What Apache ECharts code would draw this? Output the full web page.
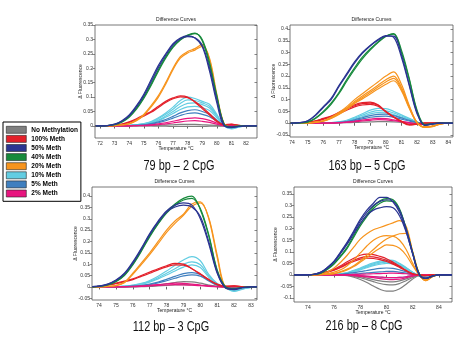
<!DOCTYPE html>
<html>
<head>
<meta charset="utf-8">
<script src="https://cdn.jsdelivr.net/npm/echarts@6/dist/echarts.min.js"></script>
<style>
  html, body { margin: 0; padding: 0; background: #fff; }
  #chart { width: 474px; height: 338px; }
</style>
</head>
<body>
<div id="chart"></div>
<script>
// Methylation standards shown in every panel
const groups = ['No Methylation', '100% Meth', '50% Meth', '40% Meth', '20% Meth', '10% Meth', '5% Meth', '2% Meth'];

// ---------- 79 bp amplicon (2 CpG) ----------
const temp79 = [71.7, 72, 72.5, 73, 73.5, 74, 74.5, 75, 75.5, 76, 76.5, 77, 77.5, 78, 78.5, 79, 79.5, 80, 80.5, 81, 81.5, 82, 82.75];
const xTicks79 = [72, 73, 74, 75, 76, 77, 78, 79, 80, 81, 82];
const yTicks79 = [0, 0.05, 0.1, 0.15, 0.2, 0.25, 0.3, 0.35];
const bp79_m50 = [
  [0, 0, 0.001, 0.006, 0.018, 0.038, 0.07, 0.11, 0.16, 0.21, 0.25, 0.285, 0.305, 0.312, 0.305, 0.275, 0.19, 0.08, 0.0, -0.004, -0.002, 0, 0],
  [0, 0, 0.001, 0.005, 0.016, 0.035, 0.066, 0.105, 0.153, 0.203, 0.245, 0.28, 0.302, 0.31, 0.306, 0.28, 0.2, 0.09, 0.003, -0.006, -0.002, 0, 0]
];
const bp79_m40 = [
  [0, 0, 0.001, 0.005, 0.015, 0.033, 0.062, 0.1, 0.145, 0.195, 0.24, 0.275, 0.3, 0.315, 0.322, 0.295, 0.21, 0.1, 0.005, -0.003, -0.001, 0, 0],
  [0, 0, 0.001, 0.004, 0.013, 0.03, 0.058, 0.095, 0.14, 0.19, 0.235, 0.272, 0.298, 0.313, 0.32, 0.3, 0.22, 0.105, 0.006, -0.003, -0.001, 0, 0]
];
const bp79_m20 = [
  [0, 0, 0, 0.001, 0.004, 0.008, 0.02, 0.04, 0.07, 0.105, 0.15, 0.2, 0.24, 0.258, 0.268, 0.283, 0.23, 0.1, 0.005, -0.003, -0.001, 0, 0],
  [0, 0, 0, 0.001, 0.003, 0.007, 0.018, 0.037, 0.066, 0.1, 0.145, 0.195, 0.235, 0.253, 0.263, 0.276, 0.235, 0.11, 0.008, -0.003, -0.001, 0, 0]
];
const bp79_m100 = [
  [0, 0, 0, 0.002, 0.006, 0.014, 0.025, 0.038, 0.05, 0.068, 0.085, 0.097, 0.104, 0.1, 0.082, 0.06, 0.038, 0.015, 0.003, 0.005, 0.002, 0, 0],
  [0, 0, 0, 0.002, 0.005, 0.012, 0.022, 0.034, 0.047, 0.064, 0.081, 0.094, 0.101, 0.098, 0.085, 0.065, 0.042, 0.018, 0.004, 0.006, 0.002, 0, 0]
];
const bp79_m10 = [
  [0, 0, 0, 0, 0, 0.002, 0.004, 0.008, 0.015, 0.028, 0.045, 0.065, 0.088, 0.1, 0.095, 0.085, 0.075, 0.04, 0, -0.01, -0.004, 0, 0],
  [0, 0, 0, 0, 0, 0.002, 0.004, 0.007, 0.013, 0.025, 0.04, 0.058, 0.078, 0.09, 0.088, 0.08, 0.068, 0.036, 0, -0.009, -0.004, 0, 0],
  [0, 0, 0, 0, 0, 0.001, 0.003, 0.006, 0.011, 0.02, 0.034, 0.05, 0.067, 0.078, 0.08, 0.074, 0.062, 0.033, 0, -0.008, -0.003, 0, 0],
  [0, 0, 0, 0, 0, 0.001, 0.003, 0.005, 0.01, 0.018, 0.03, 0.043, 0.057, 0.066, 0.068, 0.063, 0.053, 0.028, 0, -0.007, -0.003, 0, 0]
];
const bp79_m5 = [
  [0, 0, 0, 0, 0, 0.001, 0.002, 0.004, 0.008, 0.014, 0.022, 0.033, 0.045, 0.053, 0.056, 0.05, 0.04, 0.02, 0, -0.005, -0.002, 0, 0],
  [0, 0, 0, 0, 0, 0.001, 0.002, 0.003, 0.006, 0.011, 0.018, 0.027, 0.036, 0.043, 0.045, 0.04, 0.032, 0.016, 0, -0.004, -0.002, 0, 0]
];
const bp79_m2 = [
  [0, 0, 0, 0, 0, 0, 0.001, 0.002, 0.004, 0.007, 0.011, 0.016, 0.022, 0.026, 0.028, 0.025, 0.019, 0.01, 0.001, 0.002, 0.001, 0, 0],
  [0, 0, 0, 0, 0, 0, 0.001, 0.001, 0.002, 0.004, 0.007, 0.01, 0.014, 0.017, 0.018, 0.016, 0.012, 0.006, 0.001, 0.001, 0, 0, 0]
];
const bp79_none = [
  [0, 0, 0, 0, 0, 0, 0, 0.001, 0.001, 0.002, 0.003, 0.004, 0.005, 0.005, 0.005, 0.004, 0.003, 0.002, 0, 0, 0, 0, 0],
  [0, 0, 0, 0, 0, 0, 0, 0, 0, -0.001, -0.001, -0.002, -0.002, -0.002, -0.002, -0.002, -0.001, -0.001, 0, 0, 0, 0, 0]
];

// ---------- 163 bp amplicon (5 CpG) ----------
const temp163 = [73.9, 74, 74.5, 75, 75.5, 76, 76.5, 77, 77.5, 78, 78.5, 79, 79.5, 80, 80.5, 81, 81.5, 82, 82.5, 83, 83.5, 84, 84.3];
const xTicks163 = [74, 75, 76, 77, 78, 79, 80, 81, 82, 83, 84];
const yTicks163 = [-0.05, 0, 0.05, 0.1, 0.15, 0.2, 0.25, 0.3, 0.35, 0.4];
const bp163_m50 = [
  [0, 0, 0.002, 0.01, 0.035, 0.07, 0.105, 0.16, 0.21, 0.26, 0.3, 0.33, 0.355, 0.372, 0.365, 0.28, 0.16, 0.04, -0.01, -0.003, 0, 0, 0],
  [0, 0, 0.002, 0.009, 0.032, 0.066, 0.1, 0.155, 0.205, 0.255, 0.296, 0.328, 0.352, 0.37, 0.37, 0.29, 0.165, 0.045, -0.01, -0.003, 0, 0, 0]
];
const bp163_m40 = [
  [0, 0, 0.001, 0.005, 0.022, 0.05, 0.085, 0.13, 0.185, 0.235, 0.28, 0.315, 0.345, 0.37, 0.378, 0.3, 0.185, 0.05, -0.008, -0.002, 0, 0, 0],
  [0, 0, 0.001, 0.004, 0.02, 0.046, 0.08, 0.125, 0.178, 0.228, 0.273, 0.31, 0.342, 0.368, 0.38, 0.31, 0.19, 0.055, -0.006, -0.002, 0, 0, 0]
];
const bp163_m20 = [
  [0, 0, 0, 0.001, 0.004, 0.01, 0.025, 0.045, 0.07, 0.1, 0.125, 0.15, 0.175, 0.2, 0.218, 0.165, 0.075, 0.002, -0.018, -0.015, -0.003, 0, 0],
  [0, 0, 0, 0.001, 0.004, 0.009, 0.023, 0.041, 0.064, 0.092, 0.115, 0.138, 0.161, 0.184, 0.2, 0.152, 0.07, 0.002, -0.017, -0.014, -0.003, 0, 0],
  [0, 0, 0, 0.001, 0.003, 0.009, 0.021, 0.039, 0.061, 0.087, 0.109, 0.131, 0.153, 0.175, 0.19, 0.145, 0.066, 0.002, -0.016, -0.013, -0.003, 0, 0],
  [0, 0, 0, 0.001, 0.003, 0.008, 0.02, 0.037, 0.058, 0.083, 0.103, 0.124, 0.145, 0.165, 0.18, 0.138, 0.063, 0.002, -0.016, -0.013, -0.003, 0, 0]
];
const bp163_m100 = [
  [0, 0, 0.001, 0.003, 0.01, 0.02, 0.03, 0.046, 0.063, 0.078, 0.087, 0.089, 0.078, 0.048, 0.025, 0.006, -0.008, -0.005, 0, 0, 0, 0, 0],
  [0, 0, 0.001, 0.003, 0.009, 0.018, 0.028, 0.043, 0.06, 0.074, 0.083, 0.085, 0.076, 0.05, 0.027, 0.008, -0.007, -0.004, 0, 0, 0, 0, 0],
  [0, 0, 0.001, 0.002, 0.008, 0.016, 0.026, 0.04, 0.055, 0.069, 0.077, 0.08, 0.072, 0.048, 0.026, 0.008, -0.006, -0.004, 0, 0, 0, 0, 0]
];
const bp163_m10 = [
  [0, 0, 0, 0, 0, 0.001, 0.002, 0.005, 0.012, 0.025, 0.04, 0.055, 0.063, 0.062, 0.05, 0.035, 0.02, 0.006, -0.008, -0.003, 0, 0, 0],
  [0, 0, 0, 0, 0, 0.001, 0.002, 0.004, 0.01, 0.021, 0.034, 0.046, 0.053, 0.052, 0.043, 0.03, 0.017, 0.005, -0.007, -0.003, 0, 0, 0],
  [0, 0, 0, 0, 0, 0, 0.001, 0.003, 0.008, 0.017, 0.028, 0.039, 0.045, 0.044, 0.036, 0.025, 0.014, 0.004, -0.006, -0.002, 0, 0, 0]
];
const bp163_m5 = [
  [0, 0, 0, 0, 0, 0, 0.001, 0.003, 0.007, 0.014, 0.023, 0.032, 0.037, 0.038, 0.032, 0.022, 0.012, 0.003, -0.004, -0.002, 0, 0, 0],
  [0, 0, 0, 0, 0, 0, 0.001, 0.002, 0.005, 0.011, 0.018, 0.025, 0.029, 0.03, 0.025, 0.017, 0.009, 0.002, -0.003, -0.001, 0, 0, 0]
];
const bp163_m2 = [
  [0, 0, 0, 0, 0, 0, 0.001, 0.002, 0.004, 0.008, 0.013, 0.017, 0.02, 0.019, 0.014, 0.008, 0.002, -0.004, -0.005, -0.002, 0, 0, 0],
  [0, 0, 0, 0, 0, 0, 0, 0.001, 0.003, 0.006, 0.009, 0.012, 0.015, 0.014, 0.01, 0.005, 0, -0.003, -0.004, -0.001, 0, 0, 0]
];
const bp163_none = [
  [0, 0, 0, 0, 0, 0, 0, 0.001, 0.002, 0.003, 0.004, 0.005, 0.006, 0.006, 0.005, 0.003, 0.001, 0, 0, 0, 0, 0, 0]
];

// ---------- 112 bp amplicon (3 CpG) ----------
const temp112 = [73.6, 74, 74.5, 75, 75.5, 76, 76.5, 77, 77.5, 78, 78.5, 79, 79.5, 80, 80.5, 81, 81.5, 82, 82.5, 83, 83.36];
const xTicks112 = [74, 75, 76, 77, 78, 79, 80, 81, 82, 83];
const yTicks112 = [-0.05, 0, 0.05, 0.1, 0.15, 0.2, 0.25, 0.3, 0.35, 0.4];
const bp112_m50 = [
  [0.001, 0.003, 0.012, 0.03, 0.06, 0.11, 0.17, 0.235, 0.29, 0.335, 0.36, 0.37, 0.36, 0.3, 0.19, 0.06, -0.005, -0.012, -0.004, 0, 0],
  [0.001, 0.003, 0.011, 0.028, 0.057, 0.105, 0.165, 0.23, 0.285, 0.33, 0.352, 0.36, 0.352, 0.31, 0.2, 0.065, -0.004, -0.01, -0.003, 0, 0]
];
const bp112_m40 = [
  [0, 0.002, 0.009, 0.025, 0.052, 0.1, 0.16, 0.225, 0.28, 0.33, 0.365, 0.39, 0.4, 0.34, 0.225, 0.07, 0, -0.008, -0.003, 0, 0],
  [0, 0.002, 0.008, 0.023, 0.05, 0.097, 0.156, 0.22, 0.277, 0.325, 0.36, 0.383, 0.39, 0.345, 0.23, 0.075, 0, -0.008, -0.003, 0, 0]
];
const bp112_m20 = [
  [0, 0, 0.002, 0.006, 0.02, 0.06, 0.105, 0.15, 0.2, 0.25, 0.29, 0.32, 0.365, 0.375, 0.3, 0.13, -0.005, -0.01, -0.003, 0, 0],
  [0, 0, 0.002, 0.005, 0.018, 0.055, 0.098, 0.142, 0.19, 0.24, 0.28, 0.315, 0.355, 0.37, 0.305, 0.14, -0.003, -0.01, -0.003, 0, 0]
];
const bp112_m100 = [
  [0, 0.002, 0.008, 0.016, 0.025, 0.035, 0.05, 0.065, 0.08, 0.093, 0.103, 0.1, 0.08, 0.055, 0.03, 0.01, 0.002, 0.004, 0.001, 0, 0],
  [0, 0.002, 0.007, 0.014, 0.022, 0.032, 0.046, 0.06, 0.075, 0.088, 0.097, 0.096, 0.08, 0.058, 0.033, 0.012, 0.003, 0.004, 0.001, 0, 0]
];
const bp112_m10 = [
  [0, 0, 0, 0.001, 0.003, 0.008, 0.015, 0.028, 0.047, 0.07, 0.095, 0.118, 0.133, 0.115, 0.055, 0.015, -0.005, -0.02, -0.01, -0.002, 0],
  [0, 0, 0, 0.001, 0.003, 0.007, 0.013, 0.024, 0.04, 0.06, 0.08, 0.1, 0.11, 0.097, 0.048, 0.013, -0.004, -0.018, -0.009, -0.002, 0],
  [0, 0, 0, 0.001, 0.002, 0.006, 0.011, 0.021, 0.035, 0.052, 0.07, 0.087, 0.097, 0.085, 0.042, 0.011, -0.004, -0.016, -0.008, -0.002, 0]
];
const bp112_m5 = [
  [0, 0, 0, 0, 0.001, 0.003, 0.006, 0.012, 0.021, 0.033, 0.046, 0.058, 0.063, 0.055, 0.03, 0.008, -0.002, -0.008, -0.004, 0, 0],
  [0, 0, 0, 0, 0.001, 0.002, 0.005, 0.01, 0.017, 0.027, 0.038, 0.048, 0.053, 0.047, 0.026, 0.007, -0.002, -0.007, -0.003, 0, 0]
];
const bp112_m2 = [
  [0, 0, 0, 0, 0.001, 0.002, 0.004, 0.007, 0.01, 0.013, 0.016, 0.015, 0.012, 0.008, 0.004, 0.001, 0, 0.002, 0.001, 0, 0],
  [0, 0, 0, 0, 0, 0.001, 0.002, 0.004, 0.006, 0.008, 0.01, 0.009, 0.007, 0.005, 0.002, 0.001, 0, 0.001, 0, 0, 0]
];
const bp112_none = [
  [0, 0, 0, 0, 0, 0.001, 0.002, 0.005, 0.009, 0.014, 0.019, 0.023, 0.022, 0.016, 0.008, 0.002, 0, -0.002, -0.001, 0, 0],
  [0, 0, 0, 0, 0, 0, 0.001, 0.002, 0.004, 0.006, 0.008, 0.01, 0.009, 0.007, 0.004, 0.001, 0, -0.001, 0, 0, 0]
];

// ---------- 216 bp amplicon (8 CpG) ----------
const temp216 = [72.95, 73.5, 74, 74.5, 75, 75.5, 76, 76.5, 77, 77.5, 78, 78.5, 79, 79.5, 80, 80.5, 81, 81.5, 82, 82.5, 83, 83.5, 84, 85];
const xTicks216 = [74, 76, 78, 80, 82, 84];
const yTicks216 = [-0.1, -0.05, 0, 0.05, 0.1, 0.15, 0.2, 0.25, 0.3, 0.35];
const bp216_m50 = [
  [0, 0, 0, 0.003, 0.012, 0.033, 0.06, 0.1, 0.142, 0.19, 0.24, 0.28, 0.31, 0.335, 0.335, 0.315, 0.27, 0.19, 0.09, 0, -0.015, -0.005, 0, 0],
  [0, 0, 0, 0.003, 0.011, 0.03, 0.056, 0.093, 0.133, 0.178, 0.222, 0.258, 0.28, 0.29, 0.295, 0.29, 0.255, 0.185, 0.09, 0.002, -0.015, -0.005, 0, 0],
  [0, 0, 0, 0.003, 0.012, 0.032, 0.058, 0.097, 0.138, 0.185, 0.232, 0.27, 0.3, 0.318, 0.325, 0.318, 0.28, 0.2, 0.095, 0.003, -0.015, -0.005, 0, 0]
];
const bp216_m40 = [
  [0, 0, 0, 0.002, 0.009, 0.026, 0.05, 0.083, 0.12, 0.17, 0.22, 0.26, 0.295, 0.32, 0.33, 0.325, 0.285, 0.2, 0.095, 0.005, -0.015, -0.005, 0, 0],
  [0, 0, 0, 0.002, 0.008, 0.024, 0.047, 0.079, 0.115, 0.163, 0.212, 0.252, 0.287, 0.31, 0.32, 0.318, 0.28, 0.198, 0.095, 0.005, -0.015, -0.005, 0, 0]
];
const bp216_m20 = [
  [0, 0, 0, 0.001, 0.004, 0.012, 0.03, 0.055, 0.085, 0.12, 0.155, 0.178, 0.195, 0.205, 0.215, 0.225, 0.235, 0.21, 0.1, 0.005, -0.025, -0.008, 0, 0],
  [0, 0, 0, 0.001, 0.003, 0.006, 0.012, 0.022, 0.04, 0.065, 0.095, 0.125, 0.15, 0.165, 0.17, 0.168, 0.15, 0.11, 0.05, 0, -0.02, -0.006, 0, 0],
  [0, 0, 0, 0, 0.001, 0.003, 0.006, 0.014, 0.025, 0.04, 0.06, 0.085, 0.11, 0.135, 0.155, 0.168, 0.178, 0.18, 0.1, 0.005, -0.025, -0.008, 0, 0],
  [0, 0, 0, 0, 0.001, 0.003, 0.006, 0.012, 0.022, 0.036, 0.055, 0.075, 0.097, 0.115, 0.13, 0.128, 0.115, 0.085, 0.04, 0, -0.018, -0.005, 0, 0]
];
const bp216_m100 = [
  [0, 0, 0, 0.002, 0.008, 0.015, 0.025, 0.04, 0.057, 0.072, 0.085, 0.09, 0.088, 0.08, 0.07, 0.055, 0.038, 0.02, 0.005, 0, -0.003, 0, 0, 0],
  [0, 0, 0, 0.002, 0.007, 0.013, 0.022, 0.035, 0.05, 0.063, 0.074, 0.079, 0.078, 0.072, 0.063, 0.05, 0.035, 0.018, 0.005, 0, -0.003, 0, 0, 0],
  [0, 0, 0, 0.001, 0.006, 0.012, 0.02, 0.032, 0.046, 0.058, 0.068, 0.072, 0.071, 0.066, 0.058, 0.046, 0.032, 0.017, 0.004, 0, -0.002, 0, 0, 0]
];
const bp216_m10 = [
  [0, 0, 0, 0, 0, 0, 0.002, 0.005, 0.01, 0.02, 0.03, 0.042, 0.052, 0.06, 0.065, 0.063, 0.05, 0.032, 0.012, -0.005, -0.02, -0.008, 0, 0],
  [0, 0, 0, 0, 0, 0, 0.002, 0.005, 0.009, 0.018, 0.027, 0.038, 0.048, 0.055, 0.06, 0.058, 0.047, 0.03, 0.011, -0.005, -0.018, -0.007, 0, 0],
  [0, 0, 0, 0, 0, 0, 0.002, 0.004, 0.008, 0.016, 0.025, 0.035, 0.044, 0.051, 0.055, 0.054, 0.043, 0.028, 0.01, -0.004, -0.017, -0.006, 0, 0],
  [0, 0, 0, 0, 0, 0, 0.001, 0.004, 0.007, 0.014, 0.022, 0.031, 0.04, 0.046, 0.05, 0.049, 0.04, 0.026, 0.009, -0.004, -0.016, -0.006, 0, 0]
];
const bp216_m5 = [
  [0, 0, 0, 0, 0, 0, 0.001, 0.003, 0.006, 0.01, 0.014, 0.019, 0.024, 0.028, 0.03, 0.028, 0.022, 0.014, 0.005, -0.003, -0.01, -0.004, 0, 0],
  [0, 0, 0, 0, 0, 0, 0, 0, -0.001, -0.002, -0.004, -0.006, -0.008, -0.01, -0.012, -0.012, -0.011, -0.008, -0.003, 0, 0, 0, 0, 0],
  [0, 0, 0, 0, 0, 0, 0, 0.001, 0.002, 0.004, 0.006, 0.009, 0.011, 0.013, 0.015, 0.015, 0.012, 0.008, 0.003, 0, -0.004, -0.002, 0, 0]
];
const bp216_m2 = [
  [0, 0, 0, 0, 0, 0, 0, 0, -0.001, -0.003, -0.006, -0.009, -0.012, -0.016, -0.019, -0.02, -0.018, -0.012, -0.005, 0, 0, 0, 0, 0],
  [0, 0, 0, 0, 0, 0, 0, 0, 0, -0.001, -0.003, -0.005, -0.007, -0.009, -0.011, -0.012, -0.011, -0.008, -0.003, 0, 0, 0, 0, 0],
  [0, 0, 0, 0, 0, 0, 0, 0, 0.001, 0.002, 0.003, 0.004, 0.005, 0.006, 0.007, 0.008, 0.007, 0.005, 0.002, 0, 0, 0, 0, 0]
];
const bp216_none = [
  [0, 0, 0, 0, 0, 0, 0, -0.001, -0.003, -0.01, -0.02, -0.033, -0.048, -0.062, -0.07, -0.07, -0.06, -0.04, -0.018, -0.002, 0, 0, 0, 0],
  [0, 0, 0, 0, 0, 0, 0, -0.001, -0.002, -0.006, -0.012, -0.02, -0.029, -0.037, -0.042, -0.043, -0.037, -0.025, -0.011, -0.001, 0, 0, 0, 0],
  [0, 0, 0, 0, 0, 0, 0, 0, -0.001, -0.004, -0.008, -0.014, -0.02, -0.026, -0.029, -0.03, -0.026, -0.017, -0.008, -0.001, 0, 0, 0, 0]
];

// ---------- styling ----------
const groupColors = {
  'No Methylation': '#7f7f7f',
  '100% Meth': '#e3202a',
  '50% Meth': '#2b3592',
  '40% Meth': '#178a3c',
  '20% Meth': '#f7941d',
  '10% Meth': '#62cde2',
  '5% Meth': '#3f7fbf',
  '2% Meth': '#e8157f'
};
// back-to-front drawing order
const drawOrder = ['10% Meth', '5% Meth', 'No Methylation', '2% Meth', '100% Meth', '20% Meth', '40% Meth', '50% Meth'];
const FONT = 'Liberation Sans, Arial, sans-serif';

const panels = [
  {
    caption: '79 bp \u2013 2 CpG', temps: temp79, xTicks: xTicks79, yTicks: yTicks79,
    xRange: [71.66, 82.75], yRange: [-0.042, 0.35],
    box: { left: 95, top: 25, width: 162, height: 113 },
    capAt: [179, 166], yNameX: 81,
    sets: { 'No Methylation': bp79_none, '100% Meth': bp79_m100, '50% Meth': bp79_m50, '40% Meth': bp79_m40,
            '20% Meth': bp79_m20, '10% Meth': bp79_m10, '5% Meth': bp79_m5, '2% Meth': bp79_m2 }
  },
  {
    caption: '163 bp \u2013 5 CpG', temps: temp163, xTicks: xTicks163, yTicks: yTicks163,
    xRange: [73.87, 84.3], yRange: [-0.059, 0.417],
    box: { left: 290, top: 25, width: 163, height: 112 },
    capAt: [367, 166], yNameX: 274,
    sets: { 'No Methylation': bp163_none, '100% Meth': bp163_m100, '50% Meth': bp163_m50, '40% Meth': bp163_m40,
            '20% Meth': bp163_m20, '10% Meth': bp163_m10, '5% Meth': bp163_m5, '2% Meth': bp163_m2 }
  },
  {
    caption: '112 bp \u2013 3 CpG', temps: temp112, xTicks: xTicks112, yTicks: yTicks112,
    xRange: [73.58, 83.36], yRange: [-0.058, 0.44],
    box: { left: 92, top: 187, width: 165, height: 113 },
    capAt: [171, 327], yNameX: 76,
    sets: { 'No Methylation': bp112_none, '100% Meth': bp112_m100, '50% Meth': bp112_m50, '40% Meth': bp112_m40,
            '20% Meth': bp112_m20, '10% Meth': bp112_m10, '5% Meth': bp112_m5, '2% Meth': bp112_m2 }
  },
  {
    caption: '216 bp \u2013 8 CpG', temps: temp216, xTicks: xTicks216, yTicks: yTicks216,
    xRange: [72.94, 85.0], yRange: [-0.117, 0.38],
    box: { left: 294, top: 187, width: 158, height: 115 },
    capAt: [364, 326], yNameX: 276,
    sets: { 'No Methylation': bp216_none, '100% Meth': bp216_m100, '50% Meth': bp216_m50, '40% Meth': bp216_m40,
            '20% Meth': bp216_m20, '10% Meth': bp216_m10, '5% Meth': bp216_m5, '2% Meth': bp216_m2 }
  }
];

const fmt = v => String(Math.round(v * 100) / 100);

const grids = [], xAxes = [], yAxes = [], series = [], graphics = [];

panels.forEach((p, pi) => {
  grids.push(Object.assign({
    show: true, borderColor: '#555', borderWidth: 0.8, backgroundColor: '#fff',
    containLabel: false, outerBoundsMode: 'none'
  }, p.box));

  const tickStyle = { lineStyle: { color: '#555', width: 0.7 } };
  // bottom axis with labels, top mirror axis with ticks only
  xAxes.push({
    type: 'value', gridIndex: pi, position: 'bottom', min: p.xRange[0], max: p.xRange[1],
    axisLine: { show: false }, splitLine: { show: false },
    axisTick: Object.assign({ show: true, inside: false, length: 2.5, customValues: p.xTicks }, tickStyle),
    axisLabel: { show: true, customValues: p.xTicks, fontSize: 5, color: '#333', margin: 3, fontFamily: FONT, formatter: fmt }
  });
  xAxes.push({
    type: 'value', gridIndex: pi, position: 'top', min: p.xRange[0], max: p.xRange[1],
    axisLine: { show: false }, splitLine: { show: false },
    axisTick: Object.assign({ show: true, inside: true, length: 2.5, customValues: p.xTicks }, tickStyle),
    axisLabel: { show: false }
  });
  yAxes.push({
    type: 'value', gridIndex: pi, position: 'left', min: p.yRange[0], max: p.yRange[1],
    axisLine: { show: false }, splitLine: { show: false },
    axisTick: Object.assign({ show: true, inside: false, length: 2.5, customValues: p.yTicks }, tickStyle),
    axisLabel: { show: true, customValues: p.yTicks, fontSize: 5, color: '#333', margin: 2, fontFamily: FONT, formatter: fmt }
  });
  yAxes.push({
    type: 'value', gridIndex: pi, position: 'right', min: p.yRange[0], max: p.yRange[1],
    axisLine: { show: false }, splitLine: { show: false },
    axisTick: Object.assign({ show: true, inside: true, length: 2.5, customValues: p.yTicks }, tickStyle),
    axisLabel: { show: false }
  });

  drawOrder.forEach((g, gi) => {
    (p.sets[g] || []).forEach(curve => {
      series.push({
        type: 'line', name: g, xAxisIndex: pi * 2, yAxisIndex: pi * 2,
        data: p.temps.map((t, i) => [t, curve[i]]),
        smooth: 0.35, symbol: 'none', showSymbol: false, silent: true,
        clip: true, z: 2 + gi,
        lineStyle: { width: 1.2, color: groupColors[g] },
        itemStyle: { color: groupColors[g] }
      });
    });
  });

  const cx = p.box.left + p.box.width / 2;
  const cy = p.box.top + p.box.height / 2;
  graphics.push({
    type: 'text', x: cx, y: p.box.top - 5, silent: true,
    style: { text: 'Difference Curves', fontSize: 5, fontFamily: FONT, fill: '#222', textAlign: 'center', textVerticalAlign: 'middle' }
  });
  graphics.push({
    type: 'text', x: cx, y: p.box.top + p.box.height + 11, silent: true,
    style: { text: 'Temperature \u00b0C', fontSize: 5, fontFamily: FONT, fill: '#222', textAlign: 'center', textVerticalAlign: 'middle' }
  });
  graphics.push({
    type: 'text', x: p.yNameX, y: cy, rotation: Math.PI / 2, silent: true,
    style: { text: '\u0394 Fluorescence', fontSize: 5, fontFamily: FONT, fill: '#222', textAlign: 'center', textVerticalAlign: 'middle' }
  });
  graphics.push({
    type: 'text', x: p.capAt[0], y: p.capAt[1], scaleX: 0.78, silent: true,
    style: { text: p.caption, fontSize: 14, fontFamily: FONT, fill: '#111', textAlign: 'center', textVerticalAlign: 'middle' }
  });
});

const chart = echarts.init(document.getElementById('chart'), null, { renderer: 'canvas' });
chart.setOption({
  animation: false,
  backgroundColor: '#fff',
  legend: {
    orient: 'vertical', left: 3, top: 122,
    data: groups, icon: 'rect', itemWidth: 20, itemHeight: 7, itemGap: 1.5,
    padding: [4, 3, 4, 3],
    borderColor: '#000', borderWidth: 1, backgroundColor: '#fff',
    selectedMode: false, z: 10,
    itemStyle: { borderColor: '#222', borderWidth: 0.6 },
    textStyle: { fontSize: 6.5, fontWeight: 'bold', fontFamily: FONT, color: '#000', lineHeight: 7, padding: 0 }
  },
  grid: grids,
  xAxis: xAxes,
  yAxis: yAxes,
  series: series,
  graphic: { elements: graphics }
});
</script>
</body>
</html>
